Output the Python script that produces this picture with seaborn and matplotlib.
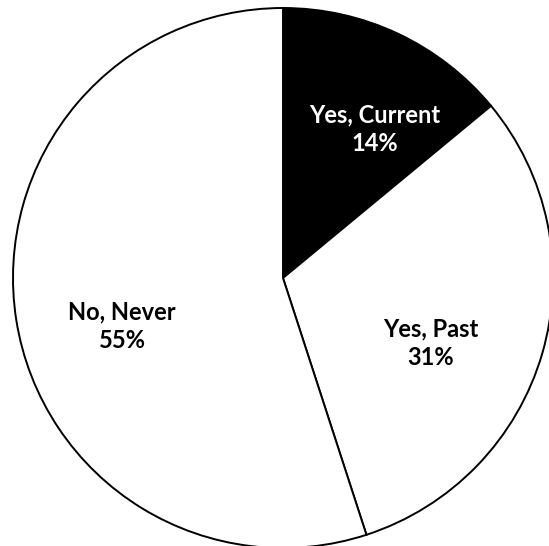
import matplotlib
matplotlib.use("Agg")
import matplotlib.pyplot as plt
import seaborn as sns

sns.set_theme(style="white")
plt.rcParams["font.family"] = ["Lato", "DejaVu Sans"]

categories = ["Yes, Current", "Yes, Past", "No, Never"]
shares = [14, 31, 55]
slice_colors = ["black", "white", "white"]
text_colors = ["white", "black", "black"]
# label anchor points, in units of the pie radius
label_xy = [(0.341, 0.552), (0.548, -0.241), (-0.596, -0.178)]

W, H = 549, 546
cx, cy, R = 283, 278, 270

fig = plt.figure(figsize=(W / 100, H / 100), dpi=100)
ax = fig.add_axes([0, 0, 1, 1])
ax.pie(shares, colors=slice_colors, startangle=90, counterclock=False,
       radius=1.0,
       wedgeprops=dict(edgecolor="black", linewidth=1.4))
ax.set_xlim(-cx / R, (W - cx) / R)
ax.set_ylim(-(H - cy) / R, cy / R)
ax.set_aspect("equal")
ax.axis("off")

for name, pct, (x, y), c in zip(categories, shares, label_xy, text_colors):
    ax.text(x, y, f"{name}\n{pct}%", ha="center", va="center", color=c,
            fontsize=17, fontweight="bold", linespacing=1.3)

fig.savefig("out.png", dpi=100, facecolor="white")
